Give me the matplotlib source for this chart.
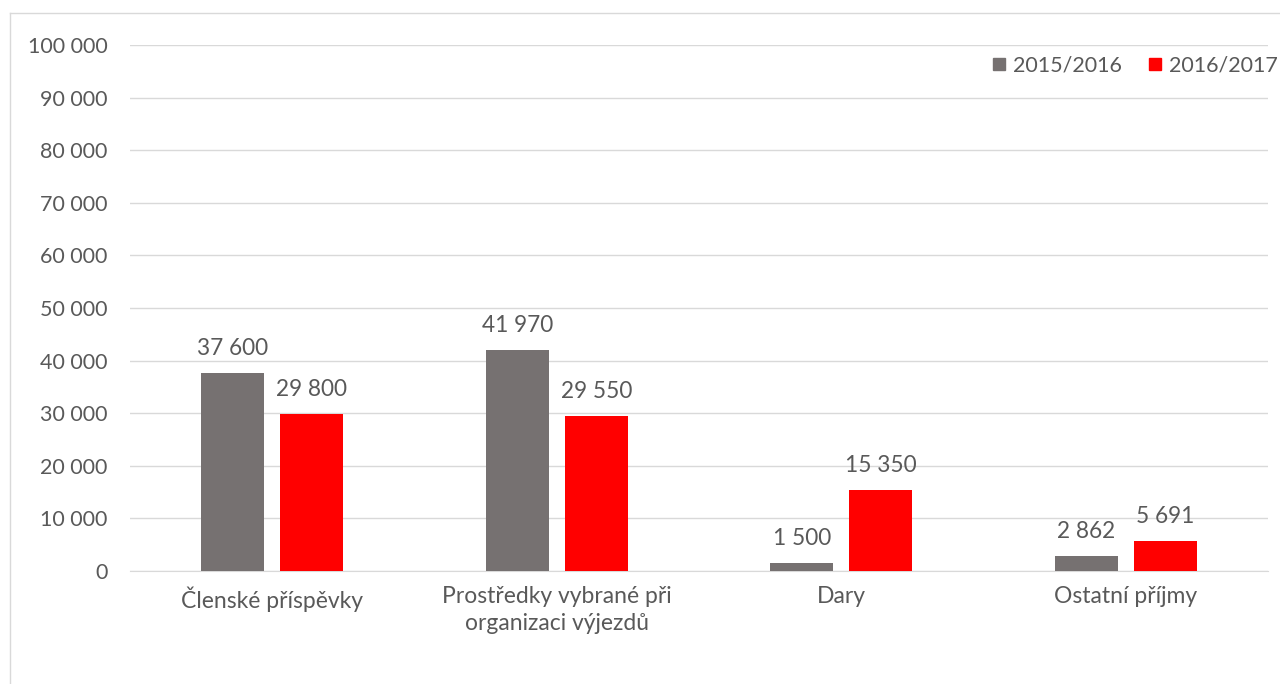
import numpy as np
import matplotlib
matplotlib.use("Agg")
import matplotlib.pyplot as plt
from matplotlib.lines import Line2D

categories = ["Členské příspěvky", "Prostředky vybrané při\norganizaci výjezdů", "Dary", "Ostatní příjmy"]
series_names = ["2015/2016", "2016/2017"]
vals_2015 = [37600, 41970, 1500, 2862]
vals_2016 = [29800, 29550, 15350, 5691]
yticks = np.arange(0, 100001, 10000)

gray = "#767171"
red = "#ff0000"
txt = "#595959"

plt.rcParams['font.family'] = ['Lato', 'DejaVu Sans']

fig = plt.figure(figsize=(12.8, 6.84), dpi=100)
ax = fig.add_axes([130/1280, 1-571/684, 1138/1280, (571-45)/684])

x = np.arange(len(categories))
w = 63/284.5
gap = 16/284.5
b1 = ax.bar(x - (w+gap)/2, vals_2015, w, color=gray, label=series_names[0], zorder=3)
b2 = ax.bar(x + (w+gap)/2, vals_2016, w, color=red, label=series_names[1], zorder=3)

def fmt(v):
    return f"{v:,}".replace(",", " ")

for bars, vals in [(b1, vals_2015), (b2, vals_2016)]:
    for r, v in zip(bars, vals):
        ax.annotate(fmt(v), (r.get_x() + r.get_width()/2, v), xytext=(0, 10),
                    textcoords="offset points", ha="center", va="bottom",
                    fontsize=16.3, color=txt)

ax.set_xlim(-0.5, len(categories) - 0.5)
ax.set_ylim(0, 100000)
ax.set_yticks(yticks)
ax.set_yticklabels([fmt(v) for v in yticks], fontsize=15.5, color=txt)
ax.set_xticks(x)
ax.set_xticklabels(categories, fontsize=16.5, color=txt, linespacing=1.35)
ax.tick_params(axis="both", length=0)
ax.tick_params(axis="y", pad=16)
ax.tick_params(axis="x", pad=11)
ax.grid(axis="y", color="#d9d9d9", linewidth=1, zorder=0)
for s in ["top", "right", "left"]:
    ax.spines[s].set_visible(False)
ax.spines["bottom"].set_color("#d9d9d9")

handles = [Line2D([], [], marker="s", linestyle="", markersize=8, color=gray),
           Line2D([], [], marker="s", linestyle="", markersize=8, color=red)]
fig.legend(handles, series_names, loc="upper right", bbox_to_anchor=(1.005, 1-47/684),
           ncol=2, frameon=False, fontsize=15.5, labelcolor=txt, handlelength=0.55,
           handletextpad=0.35, columnspacing=1.3, borderaxespad=0)

# outer chart frame
fig.add_artist(Line2D([10/1280, 10/1280], [0, 1-13/684], color="#d9d9d9", linewidth=1))
fig.add_artist(Line2D([10/1280, 1], [1-13/684, 1-13/684], color="#d9d9d9", linewidth=1))

fig.savefig("out.png", dpi=100)
